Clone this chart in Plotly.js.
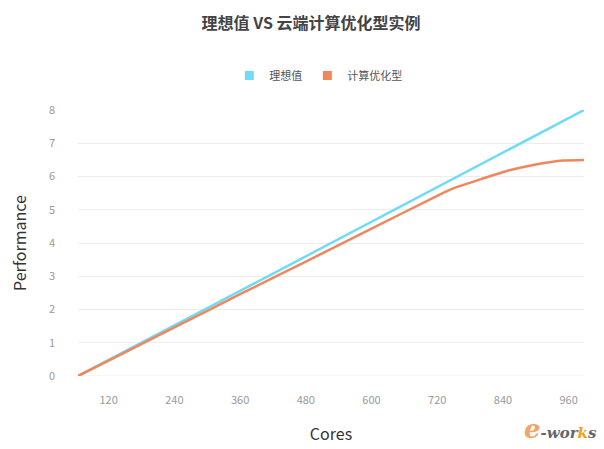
<!DOCTYPE html>
<html>
<head>
<meta charset="utf-8">
<script src="https://cdn.plot.ly/plotly-3.0.1.min.js"></script>
<style>html,body{margin:0;padding:0;background:#fff;}#chart{width:604px;height:449px;}</style>
</head>
<body>
<div id="chart"></div>
<script>
const cores = [64, 120, 240, 360, 480, 600, 720, 750, 800, 850, 900, 950, 988];
const idealValues = [0, 0.48, 1.52, 2.56, 3.60, 4.64, 5.68, 5.94, 6.37, 6.81, 7.24, 7.67, 8.0];
const optimizedValues = [0, 0.46, 1.46, 2.46, 3.44, 4.43, 5.42, 5.65, 5.92, 6.18, 6.36, 6.48, 6.5];
const seriesNames = ['理想值', '计算优化型'];
const seriesColors = ['#70dbf5', '#f0875c'];
const xTicks = [120, 240, 360, 480, 600, 720, 840, 960];
const yTicks = [0, 1, 2, 3, 4, 5, 6, 7, 8];

const font = 'Noto Sans CJK SC, Noto Sans, sans-serif';

const traces = [
  {x: cores, y: idealValues, mode: 'lines', name: seriesNames[0], showlegend: false,
   line: {color: seriesColors[0], width: 2.5}, hoverinfo: 'skip'},
  {x: cores, y: optimizedValues, mode: 'lines', name: seriesNames[1], showlegend: false,
   line: {color: seriesColors[1], width: 2.5, shape: 'spline', smoothing: 0.6}, hoverinfo: 'skip'},
  {x: [null], y: [null], mode: 'markers', name: seriesNames[0],
   marker: {symbol: 'square', size: 9, color: seriesColors[0]}},
  {x: [null], y: [null], mode: 'markers', name: seriesNames[1],
   marker: {symbol: 'square', size: 9, color: seriesColors[1]}}
];

const layout = {
  width: 604, height: 449,
  margin: {l: 78, r: 20, t: 110, b: 73},
  paper_bgcolor: '#fff', plot_bgcolor: '#fff',
  font: {family: font, color: '#999', size: 11},
  title: {text: '<b>理想值 VS 云端计算优化型实例</b>', x: 0.515, xanchor: 'center', y: 0.948, yanchor: 'middle',
          font: {family: font, size: 16, color: '#444'}},
  showlegend: true,
  legend: {orientation: 'h', x: 0.475, xanchor: 'center', y: 1.13, yanchor: 'middle',
           font: {family: font, size: 11, color: '#555'}, itemwidth: 30, traceorder: 'normal'},
  xaxis: {range: [64, 988], tickvals: xTicks, ticktext: xTicks.map(String),
          showgrid: false, zeroline: false, showline: false, ticks: '',
          ticklabelstandoff: 16, tickfont: {size: 11, color: '#999'},
          title: {text: 'Cores', font: {family: font, size: 16, color: '#333'}, standoff: 22}},
  yaxis: {range: [0, 8], tickvals: yTicks, ticktext: yTicks.map(String),
          showgrid: true, gridcolor: '#ececec', gridwidth: 1, zeroline: false, showline: false, ticks: '',
          ticklabelstandoff: 22, tickfont: {size: 11, color: '#999'},
          title: {text: 'Performance', font: {family: font, size: 16, color: '#333'}, standoff: 18}},
  shapes: [{type: 'line', xref: 'paper', yref: 'y', x0: 0, x1: 1, y0: 0, y1: 0,
            line: {color: '#ececec', width: 1}, layer: 'below'}],
  annotations: [{xref: 'paper', yref: 'paper', x: 1.03, y: -0.2, xanchor: 'right', yanchor: 'middle',
                 showarrow: false,
                 text: '<i><b><span style="color:#f2a46b;font-size:26px">e</span><span style="color:#666">-wor</span><span style="color:#f0a020">k</span><span style="color:#666">s</span></b></i>',
                 font: {family: 'DejaVu Serif, serif', size: 15}}]
};

Plotly.newPlot('chart', traces, layout, {displayModeBar: false, staticPlot: true});
</script>
</body>
</html>
